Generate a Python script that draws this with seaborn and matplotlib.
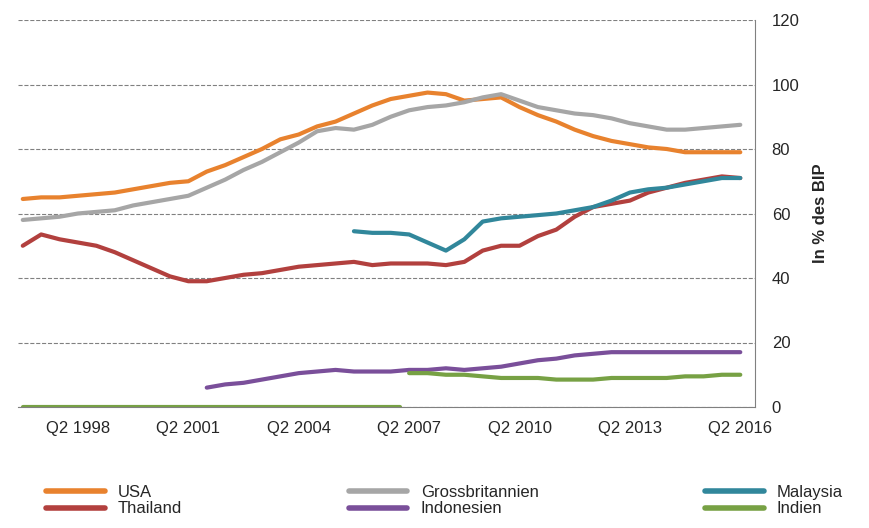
import numpy as np
import pandas as pd
import seaborn as sns
import matplotlib.pyplot as plt
from matplotlib.lines import Line2D

# semi-annual readings, t = year + fraction (1996.75 = Q4 1996)
t_all = np.arange(1996.75, 2016.26, 0.5)
usa = [64.5, 65, 65, 65.5, 66, 66.5, 67.5, 68.5, 69.5, 70, 73, 75, 77.5, 80, 83, 84.5, 87, 88.5, 91, 93.5,
       95.5, 96.5, 97.5, 97, 95, 95.5, 96, 93, 90.5, 88.5, 86, 84, 82.5, 81.5, 80.5, 80, 79, 79, 79, 79]
uk = [58, 58.5, 59, 60, 60.5, 61, 62.5, 63.5, 64.5, 65.5, 68, 70.5, 73.5, 76, 79, 82, 85.5, 86.5, 86, 87.5,
      90, 92, 93, 93.5, 94.5, 96, 97, 95, 93, 92, 91, 90.5, 89.5, 88, 87, 86, 86, 86.5, 87, 87.5]
thailand = [50, 53.5, 52, 51, 50, 48, 45.5, 43, 40.5, 39, 39, 40, 41, 41.5, 42.5, 43.5, 44, 44.5, 45, 44,
            44.5, 44.5, 44.5, 44, 45, 48.5, 50, 50, 53, 55, 59, 62, 63, 64, 66.5, 68, 69.5, 70.5, 71.5, 71]
t_malaysia = np.arange(2005.75, 2016.26, 0.5)
malaysia = [54.5, 54, 54, 53.5, 51, 48.5, 52, 57.5, 58.5, 59, 59.5, 60, 61, 62, 64, 66.5, 67.5, 68, 69, 70, 71, 71]
t_indonesia = np.arange(2001.75, 2016.26, 0.5)
indonesia = [6, 7, 7.5, 8.5, 9.5, 10.5, 11, 11.5, 11, 11, 11, 11.5, 11.5, 12, 11.5, 12, 12.5, 13.5, 14.5, 15,
             16, 16.5, 17, 17, 17, 17, 17, 17, 17, 17]
t_india_a = np.arange(1996.75, 2007.01, 0.25)
india_a = [0] * len(t_india_a)
t_india_b = np.arange(2007.25, 2016.26, 0.5)
india_b = [10.5, 10.5, 10, 10, 9.5, 9, 9, 9, 8.5, 8.5, 8.5, 9, 9, 9, 9, 9.5, 9.5, 10, 10]

colors = {"USA": "#e8822e", "Grossbritannien": "#a6a6a6", "Malaysia": "#31879b",
          "Thailand": "#b2403e", "Indonesien": "#7a4f9a", "Indien": "#77a144"}

sns.set_style("white")
plt.rcParams['font.family'] = ['Liberation Sans', 'DejaVu Sans']
fig = plt.figure(figsize=(8.69, 5.28), dpi=100)
ax = fig.add_axes([18 / 869, 1 - 407 / 528, 737 / 869, 387 / 528])

series = [("USA", t_all, usa), ("Grossbritannien", t_all, uk), ("Thailand", t_all, thailand),
          ("Malaysia", t_malaysia, malaysia), ("Indonesien", t_indonesia, indonesia),
          ("Indien", t_india_a, india_a), ("Indien", t_india_b, india_b)]
for name, t, v in series:
    sns.lineplot(x=t, y=v, ax=ax, color=colors[name], linewidth=3.0, legend=False)

ax.set_xlim(1996.62, 2016.65)
ax.set_ylim(0, 120)
ax.set_yticks(range(0, 121, 20))
ax.yaxis.tick_right()
ax.yaxis.set_label_position("right")
ax.set_ylabel("In % des BIP", fontsize=12, fontweight="bold", labelpad=10)
xt = [1998.25 + 3 * k for k in range(7)]
ax.set_xticks(xt)
ax.set_xticklabels([f"Q2 {int(x)}" for x in xt])
ax.tick_params(labelsize=12, length=0)
ax.tick_params(axis="y", pad=12)
ax.tick_params(axis="x", pad=10)
ax.grid(axis="y", linestyle="--", color="#808080", linewidth=0.8)
for s in ["top", "left"]:
    ax.spines[s].set_visible(False)
for s in ["right", "bottom"]:
    ax.spines[s].set_color("#808080")

# column-major fill: rows read USA/Grossbritannien/Malaysia, Thailand/Indonesien/Indien
order = ["USA", "Thailand", "Grossbritannien", "Indonesien", "Malaysia", "Indien"]
handles = [Line2D([0], [0], color=colors[n], linewidth=4) for n in order]
fig.legend(handles, order, loc="lower left", bbox_to_anchor=(0.04, 0.0), ncol=3, frameon=False,
           fontsize=12, handlelength=3.5, columnspacing=10, borderaxespad=0.3, labelspacing=0.1)

fig.savefig("out.png", dpi=100)
